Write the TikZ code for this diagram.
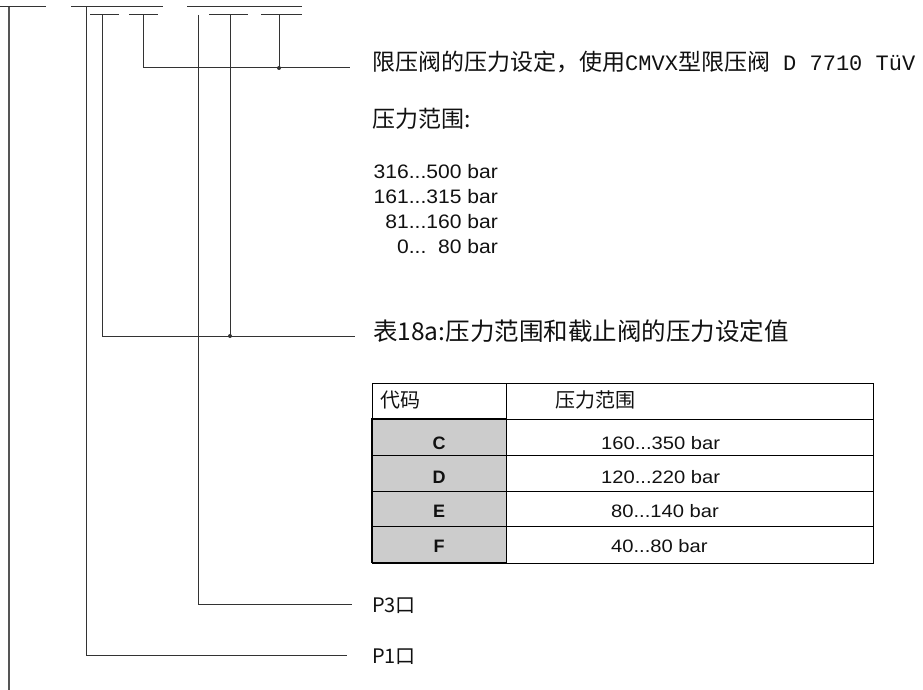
\documentclass[tikz,border=0pt]{standalone}
\usepackage{fontspec}
\setmainfont{Liberation Sans}
\newfontfamily\cjk{Noto Sans CJK SC}
\newfontfamily\monof{Liberation Mono}
\definecolor{linec}{HTML}{333333}
\definecolor{leftc}{HTML}{555555}
\definecolor{cellg}{HTML}{CCCCCC}
\definecolor{txtc}{HTML}{111111}
\begin{document}
\begin{tikzpicture}[x=1pt,y=-1pt,
  wire/.style={draw=linec, line width=1pt},
  lbl/.style={anchor=west, inner sep=0pt, text=txtc},
  basel/.style={anchor=base west, inner sep=0pt, text=txtc},
  baser/.style={anchor=base east, inner sep=0pt, text=txtc},
  basec/.style={anchor=base, inner sep=0pt, text=txtc},
  bigcjk/.style={font=\cjk\fontsize{23}{26}\selectfont},
  capcjk/.style={font=\cjk\fontsize{24.5}{28}\selectfont},
  midcjk/.style={font=\cjk\fontsize{20}{24}\selectfont},
  valf/.style={font=\fontsize{19.5}{22}\selectfont},
  tabf/.style={font=\fontsize{18}{21}\selectfont},
  codef/.style={font=\bfseries\fontsize{18}{21}\selectfont},
  jdot/.style={fill=linec}]
\useasboundingbox (0,0) rectangle (923,690);

% ---------- top bars ----------
\draw[wire] (0,7) -- (46,7);
\draw[wire] (71,7) -- (163,7);
\draw[wire] (187,7) -- (302,7);
\draw[wire] (90,15) -- (119,15);
\draw[wire] (129,15) -- (158,15);
\draw[wire] (209,15) -- (248,15);
\draw[wire] (261,15) -- (302,15);

% ---------- coordinates ----------
\coordinate (a0) at (9,7);
\coordinate (a0e) at (9,690);
\coordinate (b1) at (143,15);
\coordinate (b1j) at (279,15);
\coordinate (j1) at (279,68);
\coordinate (e1) at (350,68);
\coordinate (b2) at (102,15);
\coordinate (b2j) at (230,15);
\coordinate (j2) at (230,336);
\coordinate (e2) at (355,336);
\coordinate (b3) at (198,15);
\coordinate (e3) at (352,604);
\coordinate (b4) at (86,7);
\coordinate (e4) at (347,655);

% ---------- texts ----------
\node[lbl, bigcjk] (t1) at (372,62) {限压阀的压力设定，使用{\monof\fontsize{22}{26}\selectfont CMVX}型限压阀{\monof\fontsize{22}{26}\selectfont\ D 7710 TüV}};
\node[lbl, bigcjk] (t1b) at (372,119) {压力范围:};
\node[baser, valf] (r1) at (498,178.5) {\scalebox{1.08}[1]{316...500 bar}};
\node[baser, valf] (r2) at (498,203.5) {\scalebox{1.08}[1]{161...315 bar}};
\node[baser, valf] (r3) at (498,228.5) {\scalebox{1.08}[1]{81...160 bar}};
\node[baser, valf] (r4) at (498,253.5) {\scalebox{1.08}[1]{0...\hphantom{0}80 bar}};
\node[lbl, capcjk] (t2) at (373,331) {表18a:压力范围和截止阀的压力设定值};
\node[lbl, midcjk] (t3) at (372,606) {P3口};
\node[lbl, midcjk] (t4) at (372,657) {P1口};

% ---------- connectors ----------
\draw[line width=2pt, draw=leftc] (a0) -- (a0e);
\draw[wire] (b1) |- (e1);
\draw[wire] (b1j) -- (j1);
\fill[jdot] (j1) circle (2pt);
\draw[wire] (b2) |- (e2);
\draw[wire] (b2j) -- (j2);
\fill[jdot] (j2) circle (2pt);
\draw[wire] (b3) |- (e3);
\draw[wire] (b4) |- (e4);

% ---------- table ----------
\fill[cellg] (372,419) rectangle (506,563);
\draw[line width=0.9pt] (372,383) rectangle (873,563);
\draw[line width=0.9pt] (506,383) -- (506,563);
\draw[line width=0.9pt] (372,419) -- (873,419);
\draw[line width=0.9pt] (372,455) -- (873,455);
\draw[line width=0.9pt] (372,491) -- (873,491);
\draw[line width=0.9pt] (372,526) -- (873,526);
\draw[line width=1.8pt] (372,563) -- (372,419) -- (506,419);
\draw[line width=1.8pt] (372,563) -- (506,563);

\node[lbl, midcjk] (h1) at (380,400) {代码};
\node[lbl, midcjk] (h2) at (555,400) {压力范围};

\node[basec, codef] (cC) at (439,449) {C};
\node[basec, codef] (cD) at (439,483) {D};
\node[basec, codef] (cE) at (439,517) {E};
\node[basec, codef] (cF) at (439,552) {F};

\node[basel, tabf] (vC) at (601,449) {\scalebox{1.12}[1]{160...350 bar}};
\node[basel, tabf] (vD) at (601,483) {\scalebox{1.12}[1]{120...220 bar}};
\node[basel, tabf] (vE) at (611,517) {\scalebox{1.12}[1]{80...140 bar}};
\node[basel, tabf] (vF) at (611,552) {\scalebox{1.12}[1]{40...80 bar}};
\end{tikzpicture}
\end{document}
